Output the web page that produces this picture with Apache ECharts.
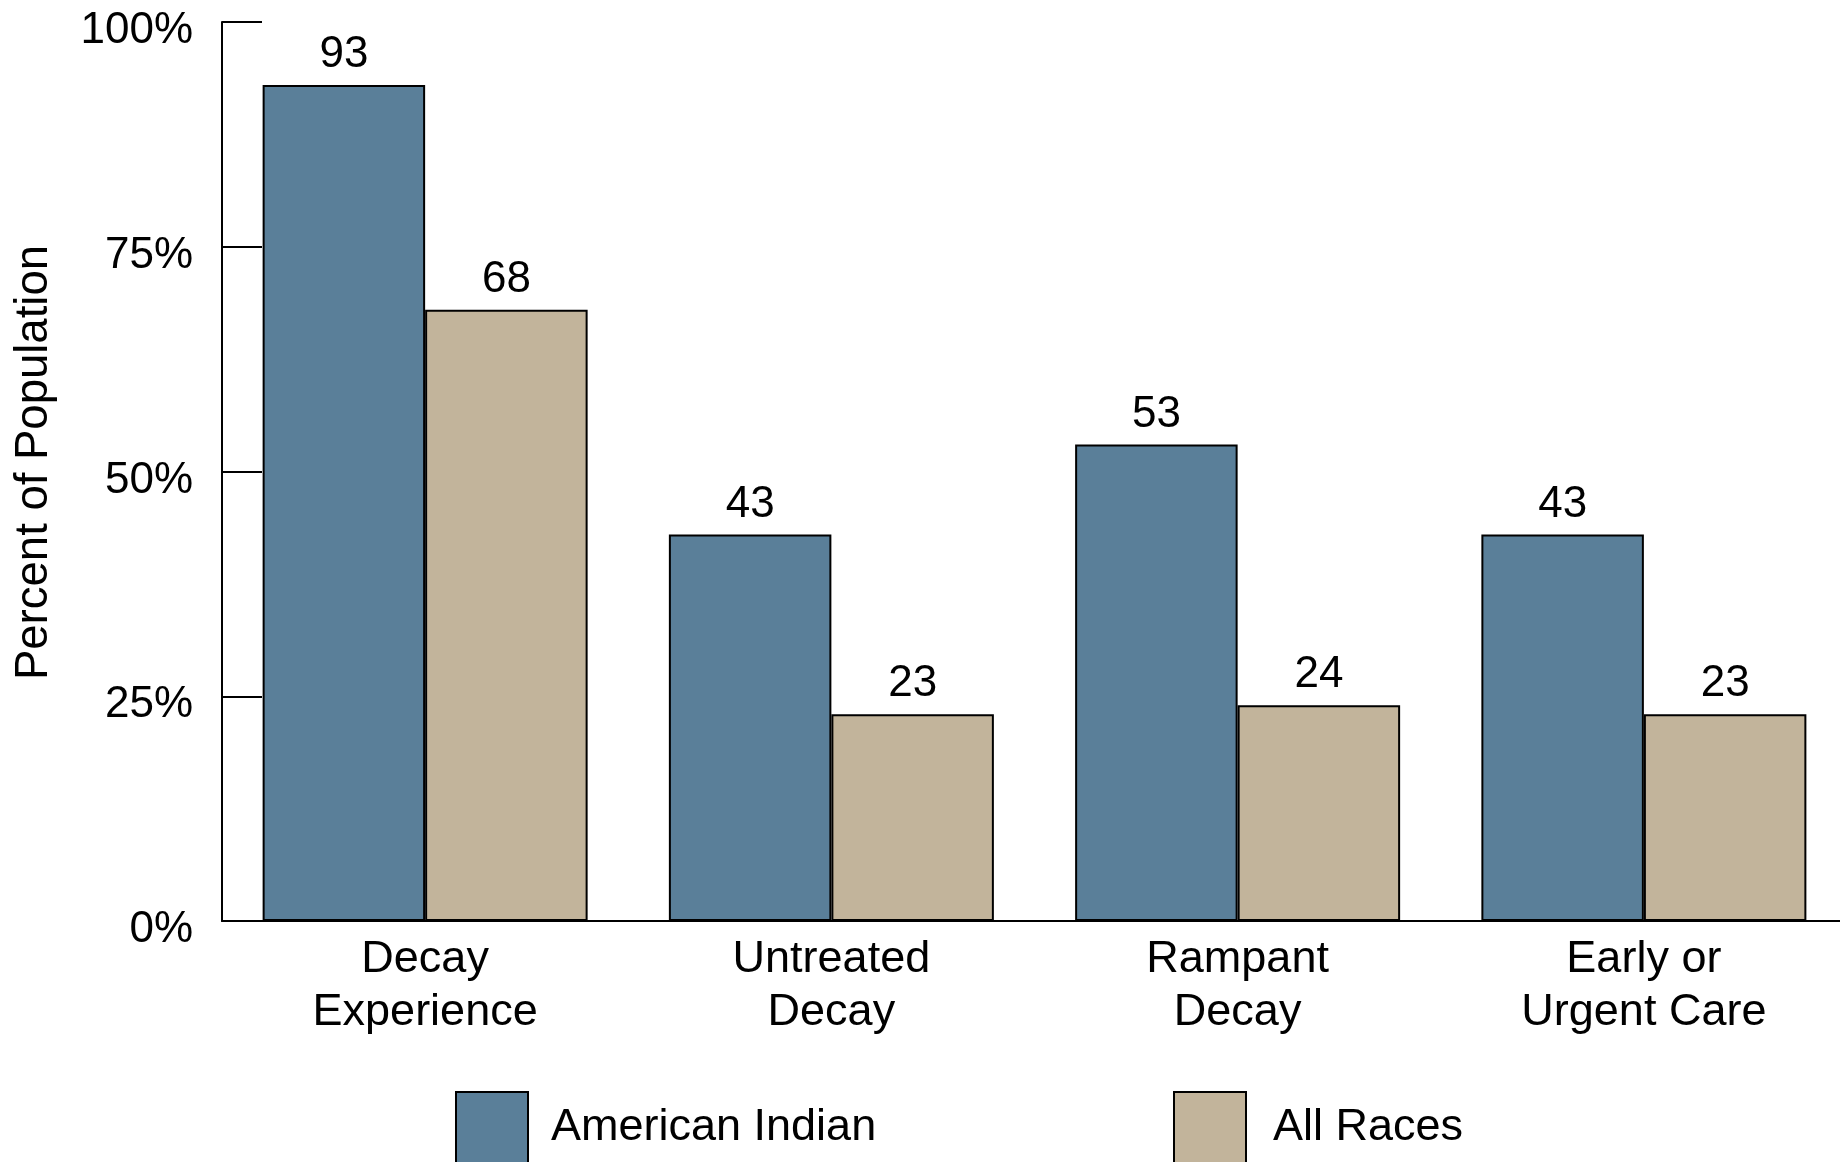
<!DOCTYPE html>
<html>
<head>
<meta charset="utf-8">
<script src="https://cdn.jsdelivr.net/npm/echarts@6/dist/echarts.min.js"></script>
<style>
html,body{margin:0;padding:0;background:#fff;overflow:hidden;width:1840px;height:1162px;}
#chart{width:1848px;height:1162px;}
</style>
</head>
<body>
<div id="chart"></div>
<script>
const categories = ['Decay\nExperience', 'Untreated\nDecay', 'Rampant\nDecay', 'Early or\nUrgent Care'];
const seriesNames = ['American Indian', 'All Races'];
const americanIndian = [93, 43, 53, 43];
const allRaces = [68, 23, 24, 23];
const yTicks = [0, 25, 50, 75, 100];

const FONT = '"Liberation Sans", Arial, Helvetica, sans-serif';
const BLUE = '#5A7F99';
const TAN = '#C2B49B';

const chart = echarts.init(document.getElementById('chart'), null, {renderer: 'canvas'});
const labelStyle = {
  show: true, position: 'top', distance: 8,
  fontFamily: FONT, fontSize: 44, color: '#000'
};
chart.setOption({
  backgroundColor: '#fff',
  animation: false,
  grid: {left: 222, right: 1, top: 22, bottom: 241, containLabel: false},
  legend: [
    {
      data: [seriesNames[0]], left: 455, top: 1091, padding: 0,
      itemWidth: 72, itemHeight: 72, icon: 'rect',
      itemStyle: {borderColor: '#000', borderWidth: 2},
      textStyle: {fontFamily: FONT, fontSize: 45, color: '#000', padding: [0, 0, 0, 18]}
    },
    {
      data: [seriesNames[1]], left: 1173, top: 1091, padding: 0,
      itemWidth: 72, itemHeight: 72, icon: 'rect',
      itemStyle: {borderColor: '#000', borderWidth: 2},
      textStyle: {fontFamily: FONT, fontSize: 45, color: '#000', padding: [0, 0, 0, 22]}
    }
  ],
  xAxis: {
    type: 'category',
    data: categories,
    axisLine: {show: true, lineStyle: {color: '#000', width: 2}},
    axisTick: {show: false},
    axisLabel: {fontFamily: FONT, fontSize: 45, color: '#000', lineHeight: 53, margin: 12}
  },
  yAxis: {
    type: 'value',
    min: yTicks[0], max: yTicks[yTicks.length - 1], interval: 25,
    name: 'Percent of Population',
    nameLocation: 'middle', nameGap: 165, nameRotate: 90,
    nameTextStyle: {fontFamily: FONT, fontSize: 45.5, color: '#000', padding: [0, 0, 0, 18]},
    axisLine: {show: true, lineStyle: {color: '#000', width: 2}},
    axisTick: {show: true, inside: true, length: 40, lineStyle: {color: '#000', width: 2}},
    splitLine: {show: false},
    axisLabel: {
      fontFamily: FONT, fontSize: 44, color: '#000', margin: 29,
      verticalAlign: 'top', lineHeight: 18,
      formatter: v => v + '%'
    }
  },
  series: [
    {
      name: seriesNames[0], type: 'bar', data: americanIndian,
      barGap: '0%', barCategoryGap: '20%',
      itemStyle: {color: BLUE, borderColor: '#000', borderWidth: 2},
      label: labelStyle
    },
    {
      name: seriesNames[1], type: 'bar', data: allRaces,
      barGap: '0%', barCategoryGap: '20%',
      itemStyle: {color: TAN, borderColor: '#000', borderWidth: 2},
      label: labelStyle
    }
  ]
});
</script>
</body>
</html>
